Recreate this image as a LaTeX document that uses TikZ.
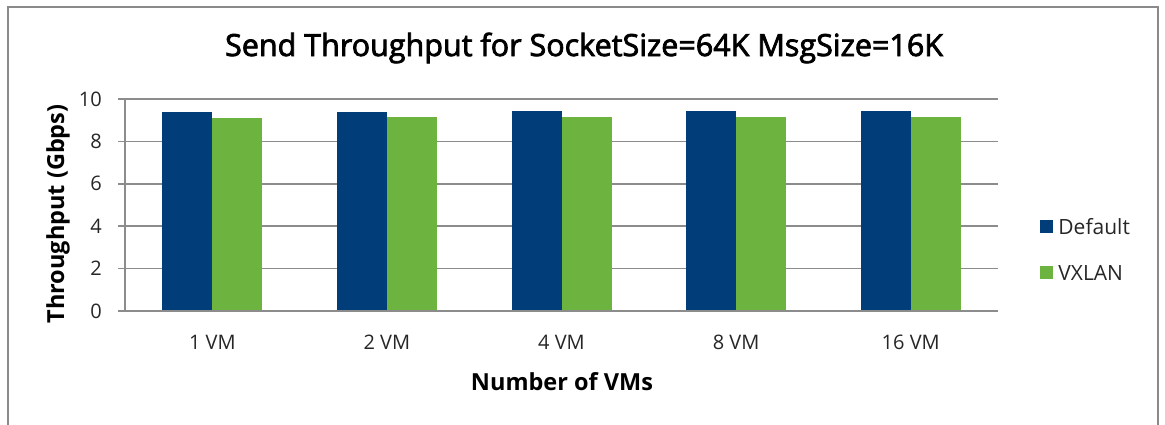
\documentclass[tikz,border=0pt]{standalone}
\usepackage{fontspec}
\setmainfont{Open Sans}
\newfontfamily\titlefont[FakeBold=2.5]{Open Sans}
\usetikzlibrary{positioning}
\definecolor{vmblue}{HTML}{003D79}
\definecolor{vmgreen}{HTML}{6DB33F}
\definecolor{gridgray}{HTML}{8C8C8C}
\definecolor{framegray}{HTML}{8A8A8A}

\begin{document}
\begin{tikzpicture}[x=1pt,y=-1pt,
    gridline/.style={gridgray, line width=1.6pt},
    ticklabel/.style={anchor=east, inner sep=0pt, text=black!85,
      font=\fontsize{20}{20}\selectfont},
    catlabel/.style={inner sep=0pt, text=black!85,
      font=\fontsize{20}{20}\selectfont},
    axistitle/.style={inner sep=0pt, font=\bfseries\fontsize{23.5}{23.5}\selectfont},
    legendkey/.style={minimum size=13pt, inner sep=0pt},
    legendtext/.style={inner sep=0pt, text=black!85,
      font=\fontsize{21}{21}\selectfont}]
  \useasboundingbox (0,0) rectangle (1165,425);
  % frame, open at the bottom
  \draw [framegray, line width=2pt] (8,426) -- (8,7) -- (1158,7) -- (1158,426);
  \node [font=\titlefont\fontsize{30.5}{30.5}\selectfont] (title) at (584,48)
    {Send Throughput for SocketSize=64K MsgSize=16K};
  % grid and ticks
  \foreach \v in {0,2,...,10} {
    \draw [gridline] (118,{311-21.2*\v}) -- (998,{311-21.2*\v});
    \node [ticklabel] (tick\v) at (102,{311-21.2*\v}) {\v};
  }
  % bars
  \foreach \vm/\dv/\xv [count=\i from 0] in
      {1 VM/9.38/9.10, 2 VM/9.41/9.13, 4 VM/9.42/9.14, 8 VM/9.43/9.15, 16 VM/9.43/9.16} {
    \pgfmathsetmacro{\cx}{125+174.6*(\i+0.5)}
    \fill [vmblue] ({\cx-50},311) rectangle (\cx,{311-21.2*\dv});
    \fill [vmgreen] (\cx,311) rectangle ({\cx+50},{311-21.2*\xv});
    \node [catlabel] (cat\i) at (\cx,342) {\vm};
  }
  \draw [gridline] (125,99) -- (125,311);
  \draw [gridline] (118,311) -- (998,311);
  \node [axistitle, rotate=90] (ylabel) at (58,214) {Throughput (Gbps)};
  \node [axistitle] (xlabel) at (562,382) {Number of VMs};
  % legend
  \node [legendkey, fill=vmblue] (keydefault) at (1046.5,226.5) {};
  \node [legendtext, anchor=west, right=5pt of keydefault] (txtdefault) {Default};
  \node [legendkey, fill=vmgreen] (keyvxlan) at (1046.5,272.5) {};
  \node [legendtext, anchor=west, right=5pt of keyvxlan] (txtvxlan) {VXLAN};
\end{tikzpicture}
\end{document}
